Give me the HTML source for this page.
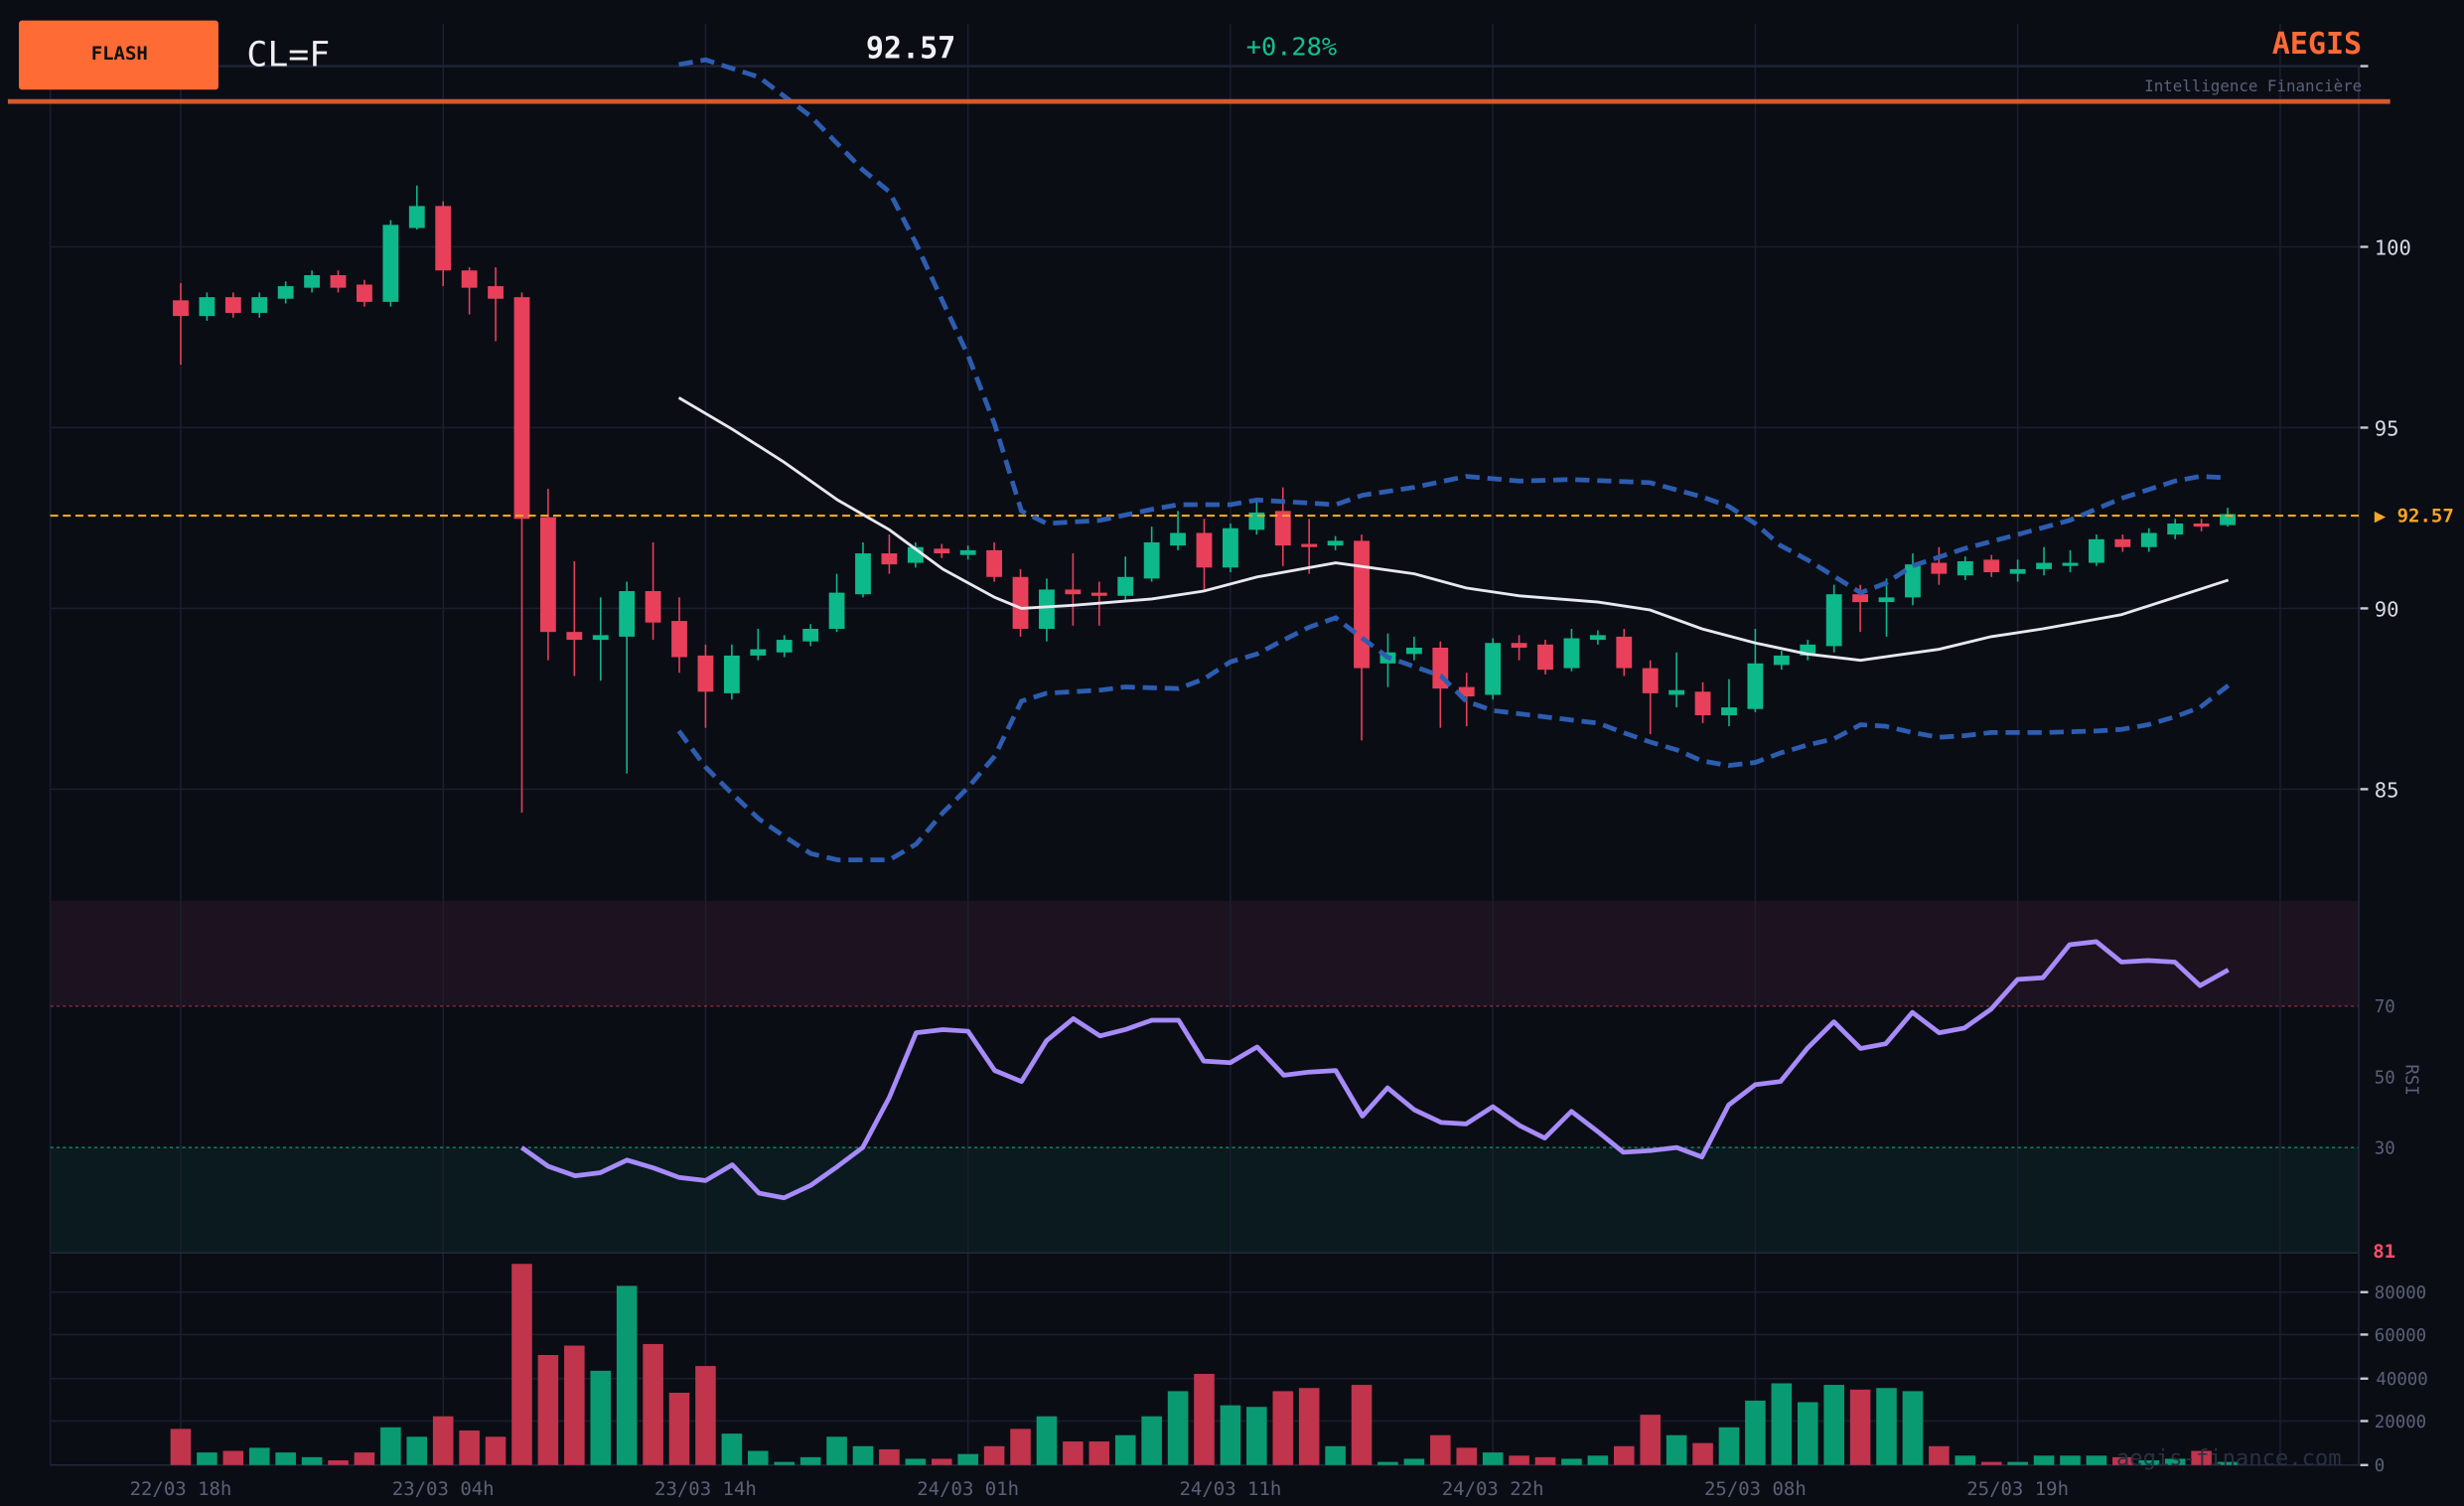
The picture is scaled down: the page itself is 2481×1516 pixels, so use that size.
<!DOCTYPE html>
<html><head><meta charset="utf-8"><style>
html,body{margin:0;padding:0;background:#0b0d15;}
svg{display:block;font-family:"DejaVu Sans Mono","Liberation Mono",monospace;}
</style></head><body>
<svg id="s" width="2481" height="1516" viewBox="0 0 1568 958" xmlns="http://www.w3.org/2000/svg">
<rect width="1568" height="958" fill="#0b0d15"/>
<rect x="32" y="573" width="1469" height="67" fill="#1c1220"/>
<rect x="32" y="730" width="1469" height="67" fill="#0a1a1f"/>
<g id="grid" stroke="#1a1e2e" stroke-width="1"></g>
<line x1="32" y1="42" x2="1501" y2="42" stroke="#1f2438" stroke-width="1.5"/>
<line x1="32" y1="640" x2="1501" y2="640" stroke="#7a2a3a" stroke-width="1" stroke-dasharray="2,2"/>
<line x1="32" y1="730" x2="1501" y2="730" stroke="#137a5a" stroke-width="1" stroke-dasharray="2,2"/>
<line x1="1501" y1="42" x2="1501" y2="932" stroke="#22283a" stroke-width="1"/>
<line x1="32" y1="932" x2="1501" y2="932" stroke="#22283a" stroke-width="1"/>
<line x1="32" y1="797" x2="1501" y2="797" stroke="#22283a" stroke-width="1"/>
<g id="vol"></g>
<g id="candles"></g>
<line x1="32" y1="328" x2="1501" y2="328" stroke="#f5a623" stroke-width="1.3" stroke-dasharray="5,3"/>
<polyline id="bbu" fill="none" stroke="#2d5db0" stroke-width="3" stroke-dasharray="9,5"/>
<polyline id="bbl" fill="none" stroke="#2d5db0" stroke-width="3" stroke-dasharray="9,5"/>
<polyline id="sma" fill="none" stroke="#e8e8f0" stroke-width="1.8"/>
<polyline id="rsi" fill="none" stroke="#a78bfa" stroke-width="3" stroke-linejoin="round"/>
<!-- header -->
<rect x="12" y="13" width="127" height="44" rx="2" fill="#ff6b35"/>
<text x="76" y="38" font-size="12" font-weight="bold" fill="#111" text-anchor="middle">FLASH</text>
<text x="157" y="42" font-size="22" fill="#f0f0f5">CL=F</text>
<text x="551" y="37" font-size="19" font-weight="bold" fill="#f0f0f5">92.57</text>
<text x="793" y="35" font-size="16" fill="#10c48c">+0.28%</text>
<text x="1503" y="34" font-size="19" font-weight="bold" fill="#ff6b35" text-anchor="end">AEGIS</text>
<text x="1503" y="58" font-size="10" fill="#5a6178" text-anchor="end">Intelligence Financière</text>
<rect x="5" y="63" width="1516" height="3" fill="#d45a2c"/>
<!-- right axis -->
<g font-size="13" fill="#d8dae6">
<text x="1511" y="162">100</text><text x="1511" y="277">95</text><text x="1511" y="392">90</text><text x="1511" y="507">85</text>
</g>
<g stroke="#c8ccd8" stroke-width="1.5">
<line x1="1502" y1="157" x2="1507" y2="157"/><line x1="1502" y1="272" x2="1507" y2="272"/><line x1="1502" y1="387" x2="1507" y2="387"/><line x1="1502" y1="502" x2="1507" y2="502"/>
<line x1="1502" y1="42" x2="1507" y2="42"/>
<line x1="1502" y1="822" x2="1507" y2="822"/><line x1="1502" y1="849" x2="1507" y2="849"/><line x1="1502" y1="877" x2="1507" y2="877"/><line x1="1502" y1="904" x2="1507" y2="904"/><line x1="1502" y1="932" x2="1507" y2="932"/>
</g>
<text x="1511" y="332" font-size="12" font-weight="bold" fill="#f5a623">▶ 92.57</text>
<g font-size="11" fill="#5a6178">
<text x="1511" y="644">70</text><text x="1511" y="689">50</text><text x="1511" y="734">30</text>
<text x="1531" y="687" transform="rotate(90 1531 687)" text-anchor="middle">RSI</text>
<text x="1511" y="826">80000</text><text x="1511" y="853">60000</text><text x="1512" y="881">40000</text><text x="1511" y="908">20000</text><text x="1511" y="936">0</text>
</g>
<text x="1510" y="800" font-size="12" font-weight="bold" fill="#ff4d6a">81</text>
<g font-size="12" fill="#5a6178" text-anchor="middle">
<text x="115" y="951">22/03 18h</text><text x="282" y="951">23/03 04h</text><text x="449" y="951">23/03 14h</text><text x="616" y="951">24/03 01h</text><text x="783" y="951">24/03 11h</text><text x="950" y="951">24/03 22h</text><text x="1117" y="951">25/03 08h</text><text x="1284" y="951">25/03 19h</text>
</g>
<text x="1490" y="932" font-size="14" fill="#2a3042" text-anchor="end">aegis-finance.com</text>
</svg>
<script>
var NS="http://www.w3.org/2000/svg";
function el(p,t,a){var e=document.createElementNS(NS,t);for(var k in a)e.setAttribute(k,a[k]);document.getElementById(p).appendChild(e);return e;}
// grid
[115,282,449,616,783,950,1117,1284,1451,32].forEach(function(x){el("grid","line",{x1:x,y1:15,x2:x,y2:932});});
[157,272,387,502,822,849,877,904].forEach(function(y){el("grid","line",{x1:32,y1:y,x2:1501,y2:y});});
// candles: [top,bottom,isGreen]
var C=[[191,201,0],[189,201,1],[189,199,0],[189,199,1],[182,190,1],[175,183,1],[175,183,0],[181,192,0],[143,192,1],[131,145,1],[131,172,0],[172,183,0],[182,190,0],[189,330,0],[329,402,0],[402,407,0],[404,407,1],[376,405,1],[376,396,0],[395,418,0],[417,440,0],[417,441,1],[413,417,1],[407,415,1],[400,408,1],[377,400,1],[352,378,1],[352,359,0],[348,358,1],[349,352,0],[350,353,1],[350,367,0],[367,400,0],[375,400,1],[375,378,0],[377,379,0],[367,379,1],[345,368,1],[339,347,1],[339,361,0],[336,361,1],[326,337,1],[325,347,0],[346,347,0],[344,347,1],[344,425,0],[415,422,1],[412,416,1],[412,438,0],[437,443,0],[409,442,1],[409,412,0],[410,426,0],[406,425,1],[404,407,1],[405,425,0],[425,441,0],[439,442,1],[440,455,0],[450,455,1],[422,451,1],[417,423,1],[410,417,1],[378,411,1],[378,383,0],[380,383,1],[359,380,1],[358,365,0],[357,366,1],[356,364,0],[362,365,1],[358,362,1],[358,360,1],[343,358,1],[343,348,0],[339,348,1],[333,340,1],[333,335,0],[327,334,1]];
var W={0:[180,232],9:[118,146],10:[128,182],11:[170,200],12:[170,217],13:[186,517],14:[311,420],15:[357,430],16:[380,433],17:[370,492],18:[345,407],19:[380,428],20:[410,463],21:[410,445],22:[400,420],25:[365,402],26:[345,380],27:[340,365],31:[345,370],32:[362,405],33:[368,408],34:[352,398],35:[370,398],36:[354,382],37:[335,370],38:[325,350],39:[330,376],41:[318,340],42:[310,360],43:[330,365],45:[340,471],46:[403,437],47:[405,420],48:[408,463],49:[428,462],51:[404,420],53:[400,427],55:[400,430],56:[420,467],57:[415,450],58:[434,460],59:[432,462],60:[400,453],63:[372,415],64:[372,402],65:[368,405],66:[352,385],67:[348,372],70:[356,370],71:[348,366],72:[350,364],73:[340,360],78:[323,335]};
var V=[909,924,923,921,924,927,929,924,908,914,901,910,914,804,862,856,872,818,855,886,869,912,923,932,927,914,920,922,928,928,925,920,909,901,917,917,913,901,885,874,894,895,885,883,920,881,932,928,913,921,924,926,927,928,926,920,900,913,918,908,891,880,892,881,884,883,885,920,926,932,931,926,926,926,927,929,928,923,932];
C.forEach(function(c,i){
 var x=115+i*16.7, g=c[2], col=g?"#0db88a":"#e8405a";
 var w=W[i]||[c[0]-3,c[1]+3];
 el("candles","line",{x1:x,y1:w[0],x2:x,y2:w[1],stroke:col,"stroke-width":1});
 el("candles","rect",{x:x-5,y:c[0],width:10,height:Math.max(2,c[1]-c[0]),fill:col});
 var vy=V[i]; if(vy>930)vy=930;
 el("vol","rect",{x:x-6.5,y:vy,width:13,height:932-vy,fill:g?"#0a9a72":"#c0344c"});
});
function pl(id,s){document.getElementById(id).setAttribute("points",s);}
pl("rsi","332,730 349,742 366,748 382,746 399,738 416,743 432,749 449,751 466,741 483,759 499,762 516,754 533,742 549,730 566,698 583,657 600,655 616,656 633,681 650,688 666,662 683,648 700,659 716,655 733,649 750,649 766,675 783,676 800,666 817,684 833,682 850,681 867,710 883,692 900,706 917,714 933,715 950,704 967,716 983,724 1000,707 1017,720 1033,733 1050,732 1067,730 1083,736 1100,703 1117,690 1133,688 1150,667 1167,650 1184,667 1200,664 1217,644 1234,657 1250,654 1267,642 1284,623 1300,622 1317,601 1334,599 1350,612 1367,611 1384,612 1400,627 1418,617");
pl("sma","432,253 466,273 499,294 533,318 566,337 600,362 633,380 650,387 683,385 733,381 766,376 800,367 850,358 900,365 933,374 967,379 1017,383 1050,388 1083,400 1117,409 1150,416 1184,420 1234,413 1267,405 1300,400 1350,391 1384,380 1418,369");
pl("bbu","432,41 449,38 483,49 516,74 549,108 566,122 583,155 600,192 616,226 633,270 650,325 666,333 700,331 733,324 750,321 783,321 800,318 833,320 850,321 867,315 900,310 933,303 967,306 1000,305 1050,307 1083,316 1100,322 1117,333 1133,347 1150,356 1184,377 1200,371 1217,360 1250,349 1284,340 1317,331 1350,317 1384,306 1400,303 1418,304");
pl("bbl","432,465 449,488 466,505 483,521 499,532 516,543 533,547 566,547 583,537 600,517 616,501 633,481 650,446 666,441 700,439 716,437 750,438 766,432 783,421 800,416 817,407 833,399 850,393 867,406 883,418 917,430 933,446 950,452 983,456 1000,458 1017,460 1033,466 1050,472 1067,477 1083,484 1100,487 1117,485 1133,479 1150,474 1167,470 1184,461 1200,462 1217,466 1234,469 1250,468 1267,466 1300,466 1334,465 1350,464 1367,461 1384,456 1400,450 1418,436");
</script>
</body></html>
